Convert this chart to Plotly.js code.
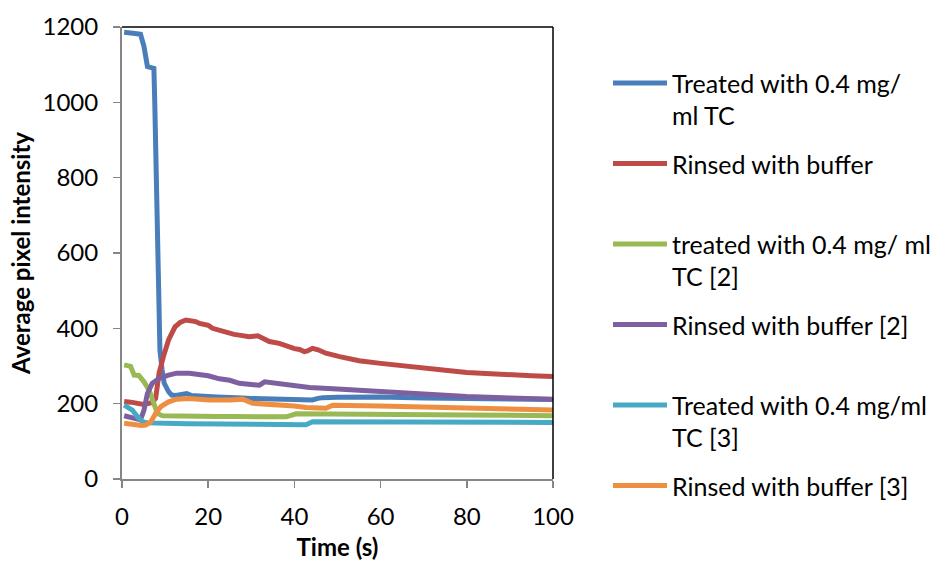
<!DOCTYPE html>
<html>
<head>
<meta charset="utf-8">
<script src="https://cdn.plot.ly/plotly-3.0.1.min.js"></script>
<style>html,body{margin:0;padding:0;background:#fff;}#chart{width:930px;height:566px;}</style>
</head>
<body>
<div id="chart"></div>
<script>
// ---- data ----
var seriesNames = [
  "Treated with 0.4 mg/\nml TC",
  "Rinsed with buffer",
  "treated with 0.4 mg/ ml\nTC [2]",
  "Rinsed with buffer [2]",
  "Treated with 0.4 mg/ml\nTC [3]",
  "Rinsed with buffer [3]"
];
var seriesColors = ["#4A7EBB", "#BE4B48", "#98B954", "#7D60A0", "#46AAC5", "#EE8E40"];

var tBlue = [0.5,1,2,3,4.3,5.1,5.9,7.0,7.4,7.6,7.8,8.2,8.8,9.3,9.8,10.8,11.5,12.5,14,15,16,17.1,18,20,22,25,28,30,35,40,43,44.2,45.5,46.6,50,55,60,70,80,90,100];
var vBlue = [1186,1186,1184,1183,1181,1148,1095,1093,1090,1000,880,608,342,290,254,232,223,222,226,227,222,221,218,219,218,218,215,214,213,212,211,210,214,216,217,218,218,215,213,212,211];

var tRed = [0.5,1,2,3,4,5,6,7,7.8,8.3,8.6,9.6,10.8,12.3,13.5,14.8,16,17.1,18,20,21,22.5,24,26,27.2,29.5,31.5,32.5,34.2,36.5,38.8,40,41.2,42.3,43,44.2,45.5,47.3,50.5,55,60,65,70,75,80,85,90,95,100];
var vRed = [206,206,204,202,199,198,200,203,214,250,281,325,369,404,416,422,421,418,413,408,400,395,388,384,382,378,380,375,365,360,350,346,344,338,340,347,343,334,325,314,307,300,294,289,283,279,276,274,272];

var tGreen = [0.5,1.5,2,2.5,2.8,3.9,4.5,5.1,6.3,7.4,8.2,9.4,12,15,18,22,26,29.5,32,36,38.1,40.4,45,50,60,70,80,90,100];
var vGreen = [303,301,299,285,276,275,268,258,236,201,174,168,167,166,165,166,166,167,165,165,165,173,173,172,172,171,170,169,168];

var tPurple = [0.5,1.5,2.8,4.3,5.1,5.9,7,8.6,10.8,12.7,15.6,17.9,18.7,20,22.6,25,27.2,30,31.9,33.1,36.5,40,43.5,50,60,70,80,90,100];
var vPurple = [168,165,161,157,183,227,254,267,276,281,281,277,276,274,266,262,254,250,249,258,254,248,243,239,232,224,219,215,212];

var tCyan = [0.5,1.5,2.4,3.6,4.7,6,7,10,15,20,25,30,35,40,42.7,44.2,50,60,70,80,90,100];
var vCyan = [196,190,183,165,152,149,148,148,147,146,145,145,145,144,144,152,152,152,151,151,150,150];

var tOrange = [0.5,1.5,3.2,4.5,5.5,6.7,7.8,9,10.8,12.7,15.6,17.9,20.2,25,28,30.3,34,38.1,40,42.7,47.3,48.9,52,59.8,70,80.9,90,100];
var vOrange = [148,146,142,142,143,152,174,192,205,212,214,211,210,210,212,201,199,196,194,190,188,196,196,194,191,187,185,183];

var xTicks = [0,20,40,60,80,100];
var yTicks = [0,200,400,600,800,1000,1200];
var xTitle = "Time (s)";
var yTitle = "Average pixel intensity";

// ---- build ----
var xs = [tBlue,tRed,tGreen,tPurple,tCyan,tOrange];
var ys = [vBlue,vRed,vGreen,vPurple,vCyan,vOrange];
var FONT = "Lato, sans-serif";

var traces = xs.map(function(x,i){
  return {x:x, y:ys[i], type:'scatter', mode:'lines', name:seriesNames[i].replace('\n',' '),
          line:{color:seriesColors[i], width:5}, showlegend:false, hoverinfo:'skip'};
});

var W=930,H=566,L=122,R=377,T=27,B=87;
var pw=W-L-R, ph=H-T-B;
function px(x){return (x-L)/pw;}
function py(y){return (H-B-y)/ph;}

var shapes = [
  {type:'line',xref:'paper',yref:'paper',x0:0,x1:1,y0:1,y1:1,line:{color:'#000',width:1.5}},
  {type:'line',xref:'paper',yref:'paper',x0:1,x1:1,y0:0,y1:1,line:{color:'#000',width:1.5}}
];
var annotations = [];
var legY0 = 83, legStep = 80.5, lineGap = 32;
seriesNames.forEach(function(nm,i){
  var yy = legY0 + i*legStep;
  shapes.push({type:'line',xref:'paper',yref:'paper',x0:px(613),x1:px(667),y0:py(yy),y1:py(yy),
               line:{color:seriesColors[i],width:5}});
  nm.split('\n').forEach(function(part,j){
    annotations.push({xref:'paper',yref:'paper',x:px(670),y:py(yy+j*lineGap),xanchor:'left',yanchor:'middle',
      text:part,showarrow:false,font:{family:FONT,size:25,color:'#000'}});
  });
});

var axisCommon = {showgrid:false, zeroline:false, showline:true, linecolor:'#868686', linewidth:2,
  ticks:'outside', ticklen:7, tickcolor:'#868686', tickwidth:1.5,
  tickfont:{family:FONT,size:24,color:'#000'}};

var layout = {
  width:W, height:H, margin:{l:L,r:R,t:T,b:B},
  paper_bgcolor:'#fff', plot_bgcolor:'#fff', showlegend:false,
  font:{family:FONT,color:'#000'},
  xaxis:Object.assign({}, axisCommon, {range:[0,100], tickvals:xTicks, ticklabelstandoff:8,
    title:{text:'<b>'+xTitle+'</b>', font:{family:FONT,size:24,color:'#000'}, standoff:10}}),
  yaxis:Object.assign({}, axisCommon, {range:[0,1200], tickvals:yTicks, ticklabelstandoff:10,
    title:{text:'<b>'+yTitle+'</b>', font:{family:FONT,size:24,color:'#000'}, standoff:5}}),
  shapes:shapes, annotations:annotations
};

Plotly.newPlot('chart', traces, layout, {displayModeBar:false, staticPlot:true});
</script>
</body>
</html>
